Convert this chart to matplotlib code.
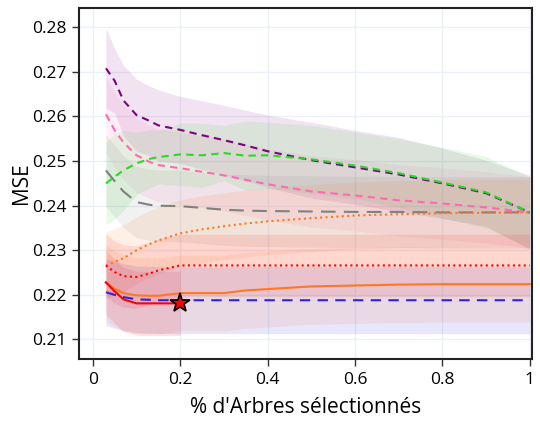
import matplotlib
matplotlib.use("Agg")
import matplotlib.pyplot as plt

plt.rcParams['font.family'] = ['Open Sans', 'DejaVu Sans']

# fraction of trees kept
x = [0.03, 0.05, 0.07, 0.1, 0.13, 0.15, 0.2, 0.25, 0.3, 0.35, 0.4, 0.5, 0.6, 0.7, 0.8, 0.9, 1.0]
x_red = [0.03, 0.05, 0.07, 0.1, 0.13, 0.15, 0.2]

purple_mean = [0.2708, 0.2680, 0.2636, 0.2603, 0.2590, 0.2580, 0.2570, 0.2558, 0.2547, 0.2535, 0.2522, 0.2502, 0.2486, 0.2470, 0.2450, 0.2428, 0.2385]
purple_std = [0.0090, 0.0072, 0.0079, 0.0081, 0.0078, 0.0080, 0.0075, 0.0077, 0.0078, 0.0079, 0.0081, 0.0085, 0.0083, 0.0083, 0.0079, 0.0074, 0.0083]

pink_mean = [0.2605, 0.2569, 0.2542, 0.2513, 0.2498, 0.2491, 0.2484, 0.2476, 0.2468, 0.2458, 0.2448, 0.2432, 0.2423, 0.2412, 0.2405, 0.2396, 0.2385]
pink_std = [0.0085, 0.0085, 0.0084, 0.0083, 0.0082, 0.0082, 0.0081, 0.0080, 0.0080, 0.0080, 0.0080, 0.0080, 0.0080, 0.0080, 0.0080, 0.0080, 0.0080]

green_mean = [0.2450, 0.2465, 0.2479, 0.2495, 0.2505, 0.2509, 0.2515, 0.2513, 0.2518, 0.2512, 0.2513, 0.2504, 0.2490, 0.2473, 0.2452, 0.2430, 0.2385]
green_std = [0.0092, 0.0095, 0.0090, 0.0070, 0.0065, 0.0060, 0.0070, 0.0072, 0.0062, 0.0078, 0.0074, 0.0076, 0.0075, 0.0077, 0.0079, 0.0080, 0.0079]

gray_mean = [0.2479, 0.2455, 0.2432, 0.2408, 0.2402, 0.2400, 0.2399, 0.2395, 0.2391, 0.2389, 0.2388, 0.2387, 0.2386, 0.2386, 0.2385, 0.2385, 0.2385]
gray_std = [0.0080] * 17

orange_dot_mean = [0.2266, 0.2274, 0.2282, 0.2300, 0.2314, 0.2322, 0.2338, 0.2347, 0.2354, 0.2360, 0.2365, 0.2372, 0.2378, 0.2381, 0.2383, 0.2384, 0.2385]
orange_dot_std = [0.0075] * 17

red_dot_mean = [0.2266, 0.2251, 0.2242, 0.2240, 0.2248, 0.2255, 0.2266, 0.2266, 0.2266, 0.2266, 0.2266, 0.2266, 0.2266, 0.2266, 0.2266, 0.2266, 0.2266]
red_dot_std = [0.0070] * 17

orange_mean = [0.2228, 0.2214, 0.2204, 0.2199, 0.2198, 0.2198, 0.2204, 0.2204, 0.2204, 0.2210, 0.2213, 0.2219, 0.2221, 0.2223, 0.2224, 0.2224, 0.2224]
orange_std = [0.0085] * 17

red_mean = [0.2228, 0.2208, 0.2190, 0.2181, 0.2181, 0.2181, 0.2181]
red_std = [0.0072] * 7

blue_mean = [0.2206, 0.2200, 0.2195, 0.2190, 0.2189, 0.2188, 0.2188, 0.2188, 0.2188, 0.2188, 0.2188, 0.2188, 0.2188, 0.2188, 0.2188, 0.2188, 0.2188]
blue_std = [0.0075] * 17

best_x = [0.2]
best_y = [0.2181]

series = [
    (x, purple_mean, purple_std, '#800080', (0, (3.5, 2.5))),
    (x, pink_mean, pink_std, '#ff69b4', (0, (3.5, 2.5))),
    (x, green_mean, green_std, '#22dd22', (0, (3.5, 2.5))),
    (x, gray_mean, gray_std, '#808080', (0, (7, 4))),
    (x, orange_dot_mean, orange_dot_std, '#ff7722', (0, (1, 1.6))),
    (x, red_dot_mean, red_dot_std, '#ff0000', (0, (1, 1.6))),
    (x, orange_mean, orange_std, '#ff7722', '-'),
    (x_red, red_mean, red_std, '#ff0000', '-'),
    (x, blue_mean, blue_std, '#3322dd', (0, (5, 3.5))),
]

fig = plt.figure(figsize=(5.4, 4.26), dpi=100)
ax = fig.add_axes([0.146, 0.157, 0.839, 0.824])

for xs, m, s, col, ls in series:
    lo = [a - b for a, b in zip(m, s)]
    hi = [a + b for a, b in zip(m, s)]
    ax.fill_between(xs, lo, hi, color=col, alpha=0.11, linewidth=0, zorder=1)

for xs, m, s, col, ls in series:
    ax.plot(xs, m, color=col, linestyle=ls, linewidth=1.5, zorder=3)

ax.plot(best_x, best_y, marker='*', markersize=15, color='red',
        markeredgecolor='black', markeredgewidth=1.2, linestyle='none', zorder=5)

ax.set_xlim(-0.032, 1.005)
ax.set_ylim(0.2056, 0.2843)
ax.set_xticks([0, 0.2, 0.4, 0.6, 0.8, 1.0])
ax.set_xticklabels(['0', '0.2', '0.4', '0.6', '0.8', '1'])
ax.set_yticks([0.21, 0.22, 0.23, 0.24, 0.25, 0.26, 0.27, 0.28])
ax.set_yticklabels(['0.21', '0.22', '0.23', '0.24', '0.25', '0.26', '0.27', '0.28'])
ax.grid(True, color='#ebf0f8', linewidth=1, zorder=0)
ax.set_axisbelow(True)
ax.tick_params(axis='both', labelsize=12.5, length=5, width=1, color='#333333', pad=4)
for sp in ax.spines.values():
    sp.set_linewidth(1.5)
    sp.set_color('#222222')

ax.set_xlabel("% d'Arbres sélectionnés", fontsize=15, labelpad=7)
ax.set_ylabel('MSE', fontsize=15, labelpad=0)

fig.savefig('out.png', dpi=100)
